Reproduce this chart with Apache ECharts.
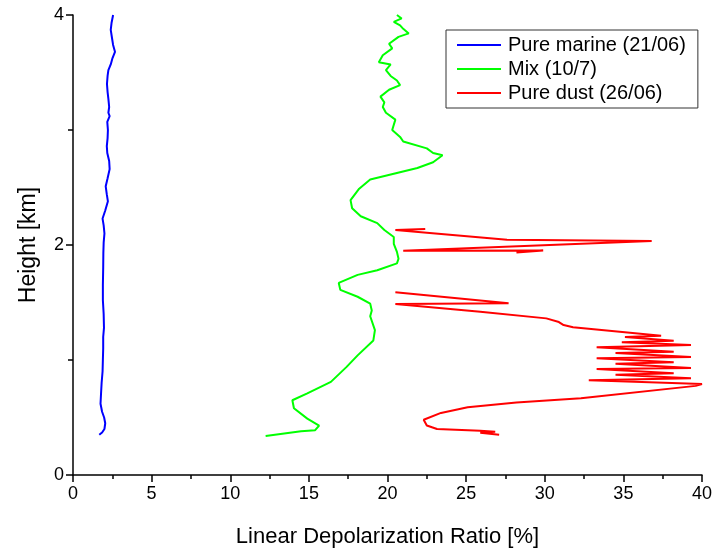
<!DOCTYPE html>
<html>
<head>
<meta charset="utf-8">
<script src="https://cdn.jsdelivr.net/npm/echarts@6/dist/echarts.min.js"></script>
<style>
  html, body { margin: 0; padding: 0; background: #fff; }
  #chart { width: 713px; height: 549px; }
</style>
</head>
<body>
<div id="chart"></div>
<script>
// depolarization ratio (%) against height (km), read from top to bottom
const marineX = [2.55, 2.45, 2.40, 2.48, 2.55, 2.67, 2.50, 2.40, 2.25, 2.20, 2.16, 2.20, 2.25, 2.30, 2.25, 2.33, 2.18, 2.22, 2.20, 2.15, 2.18, 2.30, 2.33, 2.20, 2.08, 2.15, 2.22, 2.05, 1.88, 1.95, 2.00, 1.95, 1.93, 1.92, 1.90, 1.90, 1.95, 1.97, 1.92, 1.92, 1.90, 1.88, 1.82, 1.78, 1.75, 1.85, 1.98, 2.05, 2.00, 1.85, 1.67];
const marineH = [4.00, 3.93, 3.87, 3.80, 3.74, 3.68, 3.62, 3.57, 3.52, 3.47, 3.40, 3.33, 3.27, 3.20, 3.15, 3.12, 3.07, 3.00, 2.93, 2.86, 2.80, 2.73, 2.66, 2.58, 2.51, 2.44, 2.38, 2.30, 2.23, 2.17, 2.10, 2.02, 1.93, 1.80, 1.65, 1.52, 1.40, 1.28, 1.20, 1.10, 1.00, 0.90, 0.80, 0.70, 0.62, 0.55, 0.50, 0.45, 0.40, 0.37, 0.35];

const mixX = [20.6, 20.9, 20.4, 20.8, 21.0, 21.35, 20.7, 20.1, 20.3, 19.7, 19.45, 20.2, 19.9, 20.2, 20.6, 20.8, 20.1, 19.55, 19.8, 19.7, 19.9, 20.5, 20.3, 20.8, 21.0, 22.5, 22.9, 23.5, 22.9, 21.9, 20.4, 18.9, 18.2, 17.65, 17.75, 18.3, 19.35, 19.8, 20.4, 20.4, 20.6, 20.7, 20.6, 19.35, 18.1, 16.9, 17.0, 18.1, 18.9, 19.0, 18.9, 19.2, 19.1, 18.1, 17.4, 16.4, 14.9, 13.95, 14.05, 14.9, 15.65, 15.4, 14.5, 12.25];
const mixH = [4.00, 3.97, 3.94, 3.91, 3.88, 3.84, 3.81, 3.75, 3.71, 3.65, 3.59, 3.57, 3.52, 3.47, 3.43, 3.39, 3.35, 3.29, 3.24, 3.20, 3.15, 3.09, 3.00, 2.94, 2.90, 2.84, 2.80, 2.78, 2.72, 2.67, 2.62, 2.57, 2.49, 2.39, 2.32, 2.25, 2.19, 2.13, 2.07, 2.01, 1.94, 1.88, 1.84, 1.78, 1.74, 1.67, 1.61, 1.55, 1.49, 1.43, 1.38, 1.26, 1.17, 1.04, 0.94, 0.81, 0.71, 0.65, 0.58, 0.49, 0.43, 0.39, 0.38, 0.34];

// null = gap in the dust profile
const dustX = [22.4, 20.5, 27.6, 36.8, 21.0, 29.9, 28.2, null,
  20.5, 27.7, 20.5, 25.9, 30.1, 30.9, 31.2, 31.8, 37.4,
  35.1, 38.2, 34.9, 39.3, 33.3, 38.2, 34.5, 39.3, 33.3, 38.2, 34.5, 39.3, 33.3, 38.2, 34.5, 39.3, 32.8, 40.0, 39.6,
  32.3, 28.2, 25.1, 23.4, 22.3, 22.5, 23.15, 25.9, 26.85, 25.9, 27.1];
const dustH = [2.140, 2.130, 2.045, 2.035, 1.950, 1.952, 1.935, null,
  1.589, 1.493, 1.487, 1.420, 1.362, 1.330, 1.304, 1.284, 1.211,
  1.200, 1.168, 1.155, 1.130, 1.110, 1.072, 1.060, 1.026, 1.015, 0.980, 0.968, 0.930, 0.922, 0.884, 0.872, 0.841, 0.823, 0.791, 0.775,
  0.667, 0.630, 0.590, 0.540, 0.480, 0.430, 0.400, 0.385, 0.377, 0.368, 0.350];

const seriesNames = ['Pure marine (21/06)', 'Mix (10/7)', 'Pure dust (26/06)'];
const seriesColors = ['#0000ff', '#00ff00', '#ff0000'];

function pairs(xs, hs) {
  return xs.map((x, i) => (x === null ? ['-', '-'] : [x, hs[i]]));
}

const chart = echarts.init(document.getElementById('chart'));
const font = 'Liberation Sans, Arial, sans-serif';

chart.setOption({
  animation: false,
  backgroundColor: '#ffffff',
  grid: { left: 73, right: 11, top: 15, bottom: 74, outerBoundsMode: 'none' },
  legend: {
    orient: 'vertical',
    left: 446,
    top: 30,
    padding: [5, 12, 5, 11],
    itemGap: 4,
    itemWidth: 44,
    itemHeight: 2,
    icon: 'rect',
    borderColor: '#333',
    borderWidth: 1,
    textStyle: { fontFamily: font, fontSize: 20, color: '#000', padding: [0, 0, 0, 2] },
    data: seriesNames
  },
  xAxis: {
    type: 'value',
    min: 0, max: 40, interval: 5,
    name: 'Linear Depolarization Ratio [%]',
    nameLocation: 'middle',
    nameGap: 51,
    nameTextStyle: { fontFamily: font, fontSize: 22, color: '#000' },
    axisLine: { show: true, onZero: false, lineStyle: { color: '#000', width: 1.5 } },
    axisTick: { show: true, length: 7, lineStyle: { color: '#000', width: 1.5 } },
    minorTick: { show: true, splitNumber: 2, length: 4, lineStyle: { color: '#000', width: 1.5 } },
    axisLabel: { fontFamily: font, fontSize: 18, color: '#000', margin: 10 },
    splitLine: { show: false }
  },
  yAxis: {
    type: 'value',
    min: 0, max: 4, interval: 2,
    name: 'Height [km]',
    nameLocation: 'middle',
    nameGap: 33,
    nameTextStyle: { fontFamily: font, fontSize: 23, color: '#000' },
    axisLine: { show: true, onZero: false, lineStyle: { color: '#000', width: 1.5 } },
    axisTick: { show: true, length: 7, lineStyle: { color: '#000', width: 1.5 } },
    minorTick: { show: true, splitNumber: 2, length: 5, lineStyle: { color: '#000', width: 1.5 } },
    axisLabel: { fontFamily: font, fontSize: 18, color: '#000', margin: 9 },
    splitLine: { show: false }
  },
  series: [
    [marineX, marineH],
    [mixX, mixH],
    [dustX, dustH]
  ].map((s, i) => ({
    name: seriesNames[i],
    type: 'line',
    data: pairs(s[0], s[1]),
    symbol: 'none',
    connectNulls: false,
    color: seriesColors[i],
    lineStyle: { color: seriesColors[i], width: 2 }
  }))
});
</script>
</body>
</html>
